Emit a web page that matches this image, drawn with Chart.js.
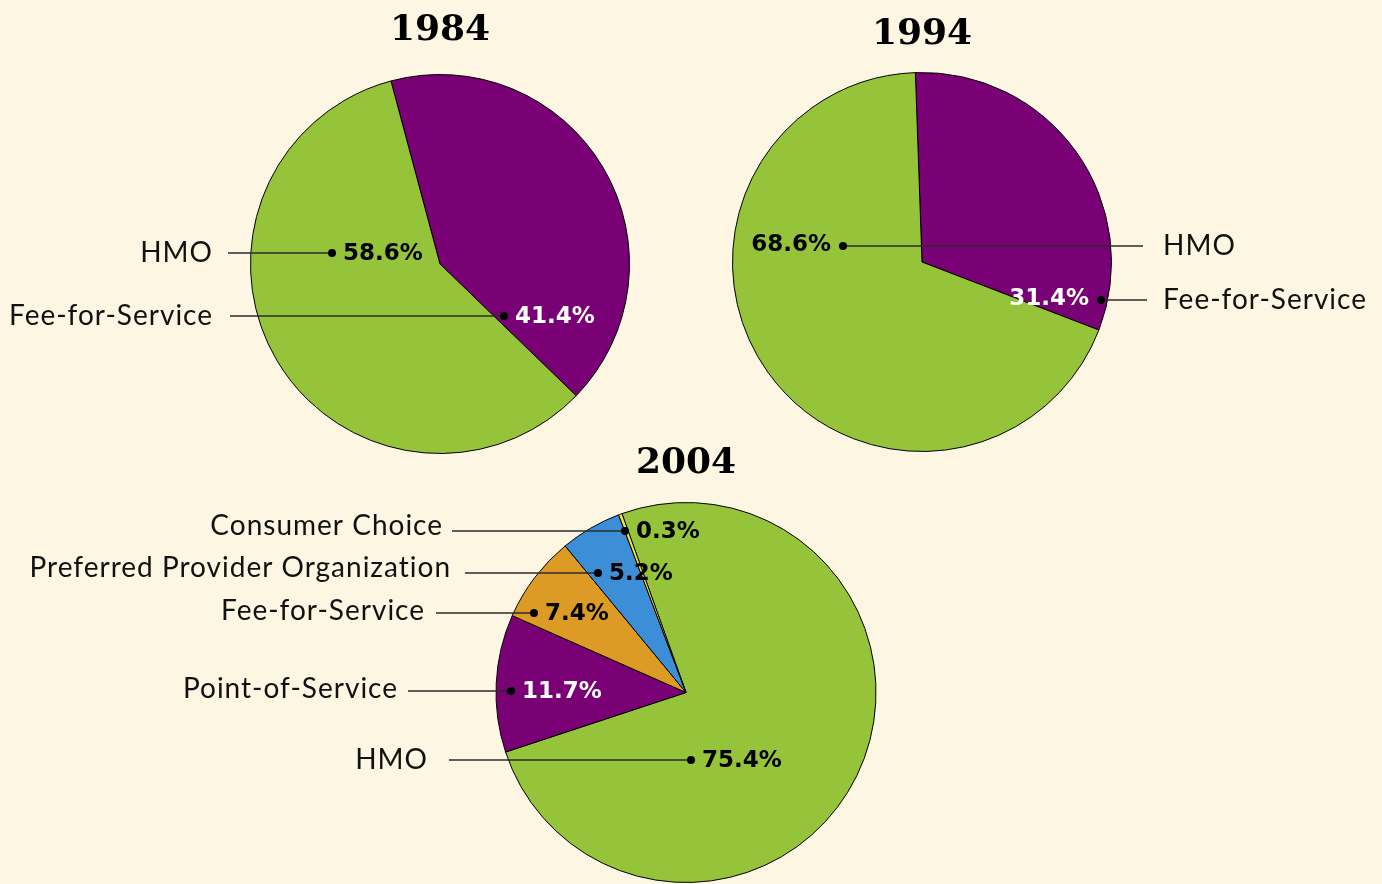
<!DOCTYPE html>
<html lang="en">
<head>
<meta charset="UTF-8">
<title>Enrollment by plan type, 1984 - 2004</title>
<script src="https://cdn.jsdelivr.net/npm/chart.js"></script>
<style>
  body { margin: 0; background: #fdf6e2; }
  .pie { position: absolute; left: 0; top: 0; }
</style>
</head>
<body>
<canvas id="pie1984" class="pie" width="1382" height="884"></canvas>
<canvas id="pie1994" class="pie" width="1382" height="884"></canvas>
<canvas id="pie2004" class="pie" width="1382" height="884"></canvas>
<script>
// plan shares per year (percent)
const labels1984 = ['Fee-for-Service', 'HMO'];
const values1984 = [41.4, 58.6];

const labels1994 = ['Fee-for-Service', 'HMO'];
const values1994 = [31.4, 68.6];

const labels2004 = ['HMO', 'Point-of-Service', 'Fee-for-Service', 'Preferred Provider Organization', 'Consumer Choice'];
const values2004 = [75.4, 11.7, 7.4, 5.2, 0.3];

const GREEN = '#95c43a', PURPLE = '#790075', ORANGE = '#dd9a24', BLUE = '#3c8fd6', YELLOW = '#f3e43a';

const W = 1382, H = 884;
const nameFont = '28px Lato';
const pctFont = 'bold 23px "DejaVu Sans"';
const titleFont = 'bold 36px "DejaVu Serif"';

// callouts: which slice, row y, where the dot sits, where the name / line go
const pies = [
  {
    id: 'pie1984', title: '1984', titleY: 31,
    cx: 440, cy: 264, r: 190, rotation: -15,
    labels: labels1984, values: values1984, colors: [PURPLE, GREEN],
    callouts: [
      { i: 1, y: 253, dotX: 332, side: 'left', nameX: 213, lineX: 228, pctColor: '#000' },
      { i: 0, y: 316, dotX: 504, side: 'left', nameX: 213, lineX: 230, pctColor: '#fff' }
    ]
  },
  {
    id: 'pie1994', title: '1994', titleY: 35,
    cx: 922, cy: 262, r: 190, rotation: -2,
    labels: labels1994, values: values1994, colors: [PURPLE, GREEN],
    callouts: [
      { i: 1, y: 246, dotX: 843, side: 'right', nameX: 1163, lineX: 1143, pctColor: '#000' },
      { i: 0, y: 300, dotX: 1101, side: 'right', nameX: 1163, lineX: 1147, pctColor: '#fff' }
    ]
  },
  {
    id: 'pie2004', title: '2004', titleY: 464,
    cx: 686, cy: 692.5, r: 190.5, rotation: -19.7,
    labels: labels2004, values: values2004, colors: [GREEN, PURPLE, ORANGE, BLUE, YELLOW],
    callouts: [
      { i: 4, y: 531, dotX: 625, side: 'left', nameX: 443, nameDy: -5, lineX: 452, pctColor: '#000' },
      { i: 3, y: 573, dotX: 598, side: 'left', nameX: 451, nameDy: -5, lineX: 465, pctColor: '#000' },
      { i: 2, y: 613, dotX: 534, side: 'left', nameX: 425, nameDy: -2, lineX: 436, pctColor: '#000' },
      { i: 1, y: 691, dotX: 511, side: 'left', nameX: 398, nameDy: -2, lineX: 408, pctColor: '#fff' },
      { i: 0, y: 760, dotX: 691, side: 'left', nameX: 428, lineX: 449, pctColor: '#000' }
    ]
  }
];

// draws the year title and the leader-line labels on top of the slices
const calloutPlugin = {
  id: 'callouts',
  afterDatasetsDraw(chart, args, opts) {
    const p = opts.pie;
    const ctx = chart.ctx;
    ctx.save();
    ctx.textBaseline = 'middle';

    ctx.fillStyle = '#000';
    ctx.font = titleFont;
    ctx.textAlign = 'center';
    ctx.fillText(p.title, p.cx, p.titleY);

    p.callouts.forEach(c => {
      const name = p.labels[c.i];
      const pct = p.values[c.i].toFixed(1) + '%';

      ctx.strokeStyle = '#2b2b2b';
      ctx.lineWidth = 1.5;
      ctx.beginPath();
      ctx.moveTo(c.lineX, c.y);
      ctx.lineTo(c.dotX, c.y);
      ctx.stroke();

      ctx.fillStyle = '#000';
      ctx.beginPath();
      ctx.arc(c.dotX, c.y, 4, 0, Math.PI * 2);
      ctx.fill();

      ctx.font = nameFont;
      ctx.letterSpacing = '1px';
      ctx.fillStyle = '#111';
      ctx.textAlign = c.side === 'left' ? 'right' : 'left';
      ctx.fillText(name, c.nameX, c.y + (c.nameDy || 0));
      ctx.letterSpacing = '0px';

      ctx.font = pctFont;
      ctx.fillStyle = c.pctColor;
      if (c.side === 'left') {
        ctx.textAlign = 'left';
        ctx.fillText(pct, c.dotX + 11, c.y + 1);
      } else {
        ctx.textAlign = 'right';
        ctx.fillText(pct, c.dotX - 12, c.y - 1);
      }
    });
    ctx.restore();
  }
};

pies.forEach(p => {
  new Chart(document.getElementById(p.id), {
    type: 'pie',
    data: {
      labels: p.labels,
      datasets: [{
        data: p.values,
        backgroundColor: p.colors,
        borderColor: '#000',
        borderWidth: 1
      }]
    },
    options: {
      responsive: false,
      animation: false,
      rotation: p.rotation,
      layout: {
        padding: {
          left: p.cx - p.r,
          right: W - p.cx - p.r,
          top: p.cy - p.r,
          bottom: H - p.cy - p.r
        }
      },
      plugins: {
        legend: { display: false },
        tooltip: { enabled: false },
        callouts: { pie: p }
      }
    },
    plugins: [calloutPlugin]
  });
});
</script>
</body>
</html>
